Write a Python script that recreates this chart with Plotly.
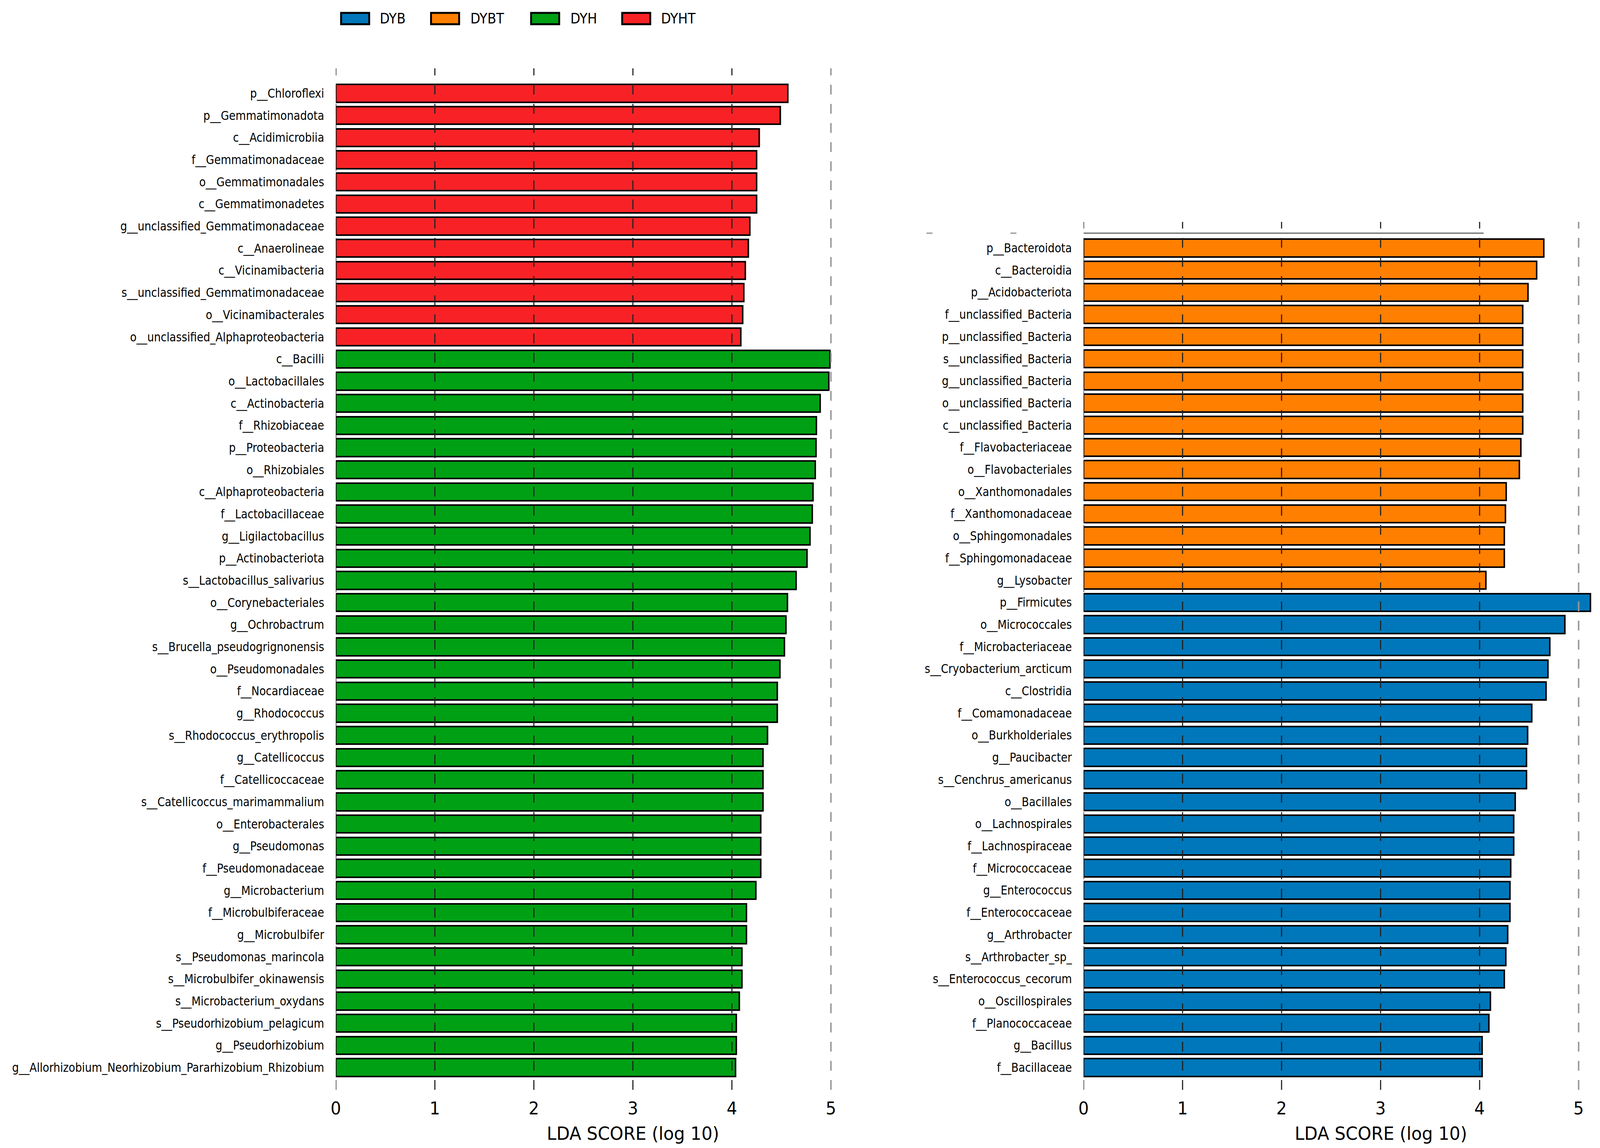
import plotly.graph_objects as go

W, H = 4255, 2939

# ---------------- data ----------------
DYHT_labels = ["p__Chloroflexi", "p__Gemmatimonadota", "c__Acidimicrobiia", "f__Gemmatimonadaceae",
               "o__Gemmatimonadales", "c__Gemmatimonadetes", "g__unclassified_Gemmatimonadaceae",
               "c__Anaerolineae", "c__Vicinamibacteria", "s__unclassified_Gemmatimonadaceae",
               "o__Vicinamibacterales", "o__unclassified_Alphaproteobacteria"]
DYHT_values = [4.565, 4.49, 4.276, 4.25, 4.25, 4.25, 4.18, 4.165, 4.135, 4.12, 4.11, 4.09]

DYH_labels = ["c__Bacilli", "o__Lactobacillales", "c__Actinobacteria", "f__Rhizobiaceae",
              "p__Proteobacteria", "o__Rhizobiales", "c__Alphaproteobacteria", "f__Lactobacillaceae",
              "g__Ligilactobacillus", "p__Actinobacteriota", "s__Lactobacillus_salivarius",
              "o__Corynebacteriales", "g__Ochrobactrum", "s__Brucella_pseudogrignonensis",
              "o__Pseudomonadales", "f__Nocardiaceae", "g__Rhodococcus", "s__Rhodococcus_erythropolis",
              "g__Catellicoccus", "f__Catellicoccaceae", "s__Catellicoccus_marimammalium",
              "o__Enterobacterales", "g__Pseudomonas", "f__Pseudomonadaceae", "g__Microbacterium",
              "f__Microbulbiferaceae", "g__Microbulbifer", "s__Pseudomonas_marincola",
              "s__Microbulbifer_okinawensis", "s__Microbacterium_oxydans", "s__Pseudorhizobium_pelagicum",
              "g__Pseudorhizobium", "g__Allorhizobium_Neorhizobium_Pararhizobium_Rhizobium"]
DYH_values = [4.99, 4.98, 4.89, 4.855, 4.85, 4.84, 4.82, 4.81, 4.79, 4.76, 4.65, 4.56, 4.545, 4.53,
              4.485, 4.46, 4.46, 4.36, 4.315, 4.315, 4.315, 4.29, 4.29, 4.29, 4.24, 4.145, 4.145,
              4.10, 4.10, 4.075, 4.045, 4.045, 4.035]

DYBT_labels = ["p__Bacteroidota", "c__Bacteroidia", "p__Acidobacteriota", "f__unclassified_Bacteria",
               "p__unclassified_Bacteria", "s__unclassified_Bacteria", "g__unclassified_Bacteria",
               "o__unclassified_Bacteria", "c__unclassified_Bacteria", "f__Flavobacteriaceae",
               "o__Flavobacteriales", "o__Xanthomonadales", "f__Xanthomonadaceae",
               "o__Sphingomonadales", "f__Sphingomonadaceae", "g__Lysobacter"]
DYBT_values = [4.65, 4.576, 4.49, 4.434, 4.434, 4.434, 4.434, 4.434, 4.434, 4.415, 4.40, 4.27,
               4.26, 4.25, 4.25, 4.065]

DYB_labels = ["p__Firmicutes", "o__Micrococcales", "f__Microbacteriaceae", "s__Cryobacterium_arcticum",
              "c__Clostridia", "f__Comamonadaceae", "o__Burkholderiales", "g__Paucibacter",
              "s__Cenchrus_americanus", "o__Bacillales", "o__Lachnospirales", "f__Lachnospiraceae",
              "f__Micrococcaceae", "g__Enterococcus", "f__Enterococcaceae", "g__Arthrobacter",
              "s__Arthrobacter_sp_", "s__Enterococcus_cecorum", "o__Oscillospirales",
              "f__Planococcaceae", "g__Bacillus", "f__Bacillaceae"]
DYB_values = [5.12, 4.86, 4.71, 4.69, 4.67, 4.525, 4.485, 4.475, 4.475, 4.36, 4.345, 4.345,
              4.315, 4.305, 4.305, 4.285, 4.265, 4.25, 4.11, 4.095, 4.025, 4.025]

GROUPS = ["DYB", "DYBT", "DYH", "DYHT"]
COLORS = {"DYB": "#0077BA", "DYBT": "#FF7F00", "DYH": "#00A014", "DYHT": "#F82226"}
TICKS = [0, 1, 2, 3, 4, 5]
X_TITLE = "LDA SCORE (log 10)"

# ---------------- styling ----------------
LABEL_FONT = dict(family="DejaVu Sans Condensed, DejaVu Sans", size=31.5, color="black")
TICK_FONT = dict(family="DejaVu Sans", size=44, color="black")
BAR_WIDTH = 0.80
EDGE = dict(color="black", width=4)

def px_x(p):
    return p / W

def px_y(p):
    return 1 - p / H

fig = go.Figure()

left_cats = DYHT_labels + DYH_labels
right_cats = DYBT_labels + DYB_labels

fig.add_trace(go.Bar(y=DYHT_labels, x=DYHT_values, orientation="h", name="DYHT",
                     marker=dict(color=COLORS["DYHT"], line=EDGE), width=BAR_WIDTH,
                     xaxis="x", yaxis="y", showlegend=False))
fig.add_trace(go.Bar(y=DYH_labels, x=DYH_values, orientation="h", name="DYH",
                     marker=dict(color=COLORS["DYH"], line=EDGE), width=BAR_WIDTH,
                     xaxis="x", yaxis="y", showlegend=False))
fig.add_trace(go.Bar(y=DYBT_labels, x=DYBT_values, orientation="h", name="DYBT",
                     marker=dict(color=COLORS["DYBT"], line=EDGE), width=BAR_WIDTH,
                     xaxis="x2", yaxis="y2", showlegend=False))
fig.add_trace(go.Bar(y=DYB_labels, x=DYB_values, orientation="h", name="DYB",
                     marker=dict(color=COLORS["DYB"], line=EDGE), width=BAR_WIDTH,
                     xaxis="x2", yaxis="y2", showlegend=False))

unit = 264.2
L0, R0 = 882, 2877
LTOP, RTOP, BOT = 175, 568, 2790
ROW = 56.7
L_FIRST, R_FIRST, LAST = 239, 635, 2733

xcommon = dict(tickvals=TICKS, ticktext=[str(t) for t in TICKS], tickfont=TICK_FONT,
               showgrid=False, zeroline=False, showline=False, ticks="",
               ticklabelstandoff=18, fixedrange=True)
ycommon = dict(type="category", showgrid=False, zeroline=False, showline=False, ticks="",
               tickfont=LABEL_FONT, ticklabelstandoff=30, fixedrange=True)

fig.update_layout(
    width=W, height=H,
    margin=dict(l=0, r=0, t=0, b=0),
    paper_bgcolor="white", plot_bgcolor="white",
    bargap=0,
    xaxis=dict(domain=[px_x(L0), px_x(L0 + 5.15 * unit)], range=[0, 5.15], anchor="y", **xcommon),
    yaxis=dict(domain=[px_y(BOT), px_y(LTOP)], anchor="x",
               categoryorder="array", categoryarray=left_cats,
               range=[len(left_cats) - 1 + (BOT - LAST) / ROW, -(L_FIRST - LTOP) / ROW], **ycommon),
    xaxis2=dict(domain=[px_x(R0), px_x(R0 + 5.2 * unit)], range=[0, 5.2], anchor="y2", **xcommon),
    yaxis2=dict(domain=[px_y(BOT), px_y(RTOP)], anchor="x2",
                categoryorder="array", categoryarray=right_cats,
                range=[len(right_cats) - 1 + (BOT - LAST) / ROW, -(R_FIRST - RTOP) / ROW], **ycommon),
)

shapes = []
for xr, yr in (("x", "y domain"), ("x2", "y2 domain")):
    for t in TICKS:
        col = "#999999" if t == 5 else "#222222"
        wd = 4 if t == 5 else 3
        shapes.append(dict(type="line", xref=xr, yref=yr, x0=t, x1=t, y0=0, y1=1,
                           line=dict(color=col, width=wd, dash="25px,24px"), layer="above"))

# thin top rule of the right panel (from 0 to ~4)
shapes.append(dict(type="line", xref="x2", yref="paper", x0=0, x1=4.04, y0=px_y(597), y1=px_y(597),
                   line=dict(color="#888888", width=4), layer="above"))
for xs in (2458, 2682):
    shapes.append(dict(type="line", xref="paper", yref="paper", x0=px_x(xs), x1=px_x(xs + 16),
                       y0=px_y(597), y1=px_y(597), line=dict(color="#aaaaaa", width=4)))

# legend patches
LEG = {"DYB": (896, 997), "DYBT": (1136, 1239), "DYH": (1403, 1506), "DYHT": (1646, 1748)}
annotations = []
for g in GROUPS:
    x0, xt = LEG[g]
    shapes.append(dict(type="rect", xref="paper", yref="paper", x0=px_x(x0), x1=px_x(x0 + 75),
                       y0=px_y(62), y1=px_y(33), fillcolor=COLORS[g],
                       line=dict(color="black", width=5)))
    annotations.append(dict(text=g, xref="paper", yref="paper", x=px_x(xt), y=px_y(47),
                            xanchor="left", yanchor="middle", showarrow=False,
                            font=dict(family="DejaVu Sans Condensed, DejaVu Sans", size=38, color="black")))

for cx in (1675, 3671):
    annotations.append(dict(text=X_TITLE, xref="paper", yref="paper", x=px_x(cx), y=px_y(2902),
                            xanchor="center", yanchor="middle", showarrow=False,
                            font=dict(family="DejaVu Sans", size=46, color="black")))

fig.update_layout(shapes=shapes, annotations=annotations)

# make the fixed-size figure fit the browser viewport exactly
FIT_JS = """
document.documentElement.style.margin = '0';
document.documentElement.style.overflow = 'hidden';
document.body.style.margin = '0';
document.body.style.overflow = 'hidden';
var gd = document.getElementById('{plot_id}');
var sx = window.innerWidth / %d, sy = window.innerHeight / %d;
gd.style.transformOrigin = '0 0';
gd.style.transform = 'scale(' + sx + ',' + sy + ')';
""" % (W, H)

fig.write_html("out.html", post_script=FIT_JS, config={"displayModeBar": False})
